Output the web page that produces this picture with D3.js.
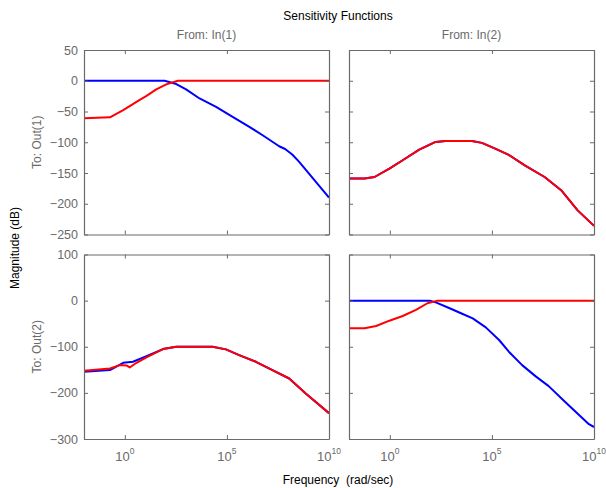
<!DOCTYPE html>
<html>
<head>
<meta charset="utf-8">
<script src="https://cdn.jsdelivr.net/npm/d3@7"></script>
<style>
  body { margin: 0; background: #fff; }
  text { font-family: "Liberation Sans", Arial, Helvetica, sans-serif; }
</style>
</head>
<body>
<script>
// frequencies are stored as log10 exponents, magnitudes in dB

// Out(1) <- In(1)
var s11BlueLog = [-2, 1.95, 2.52, 3.0, 3.66, 4.47, 5.28, 6.1, 6.75, 7.56, 7.85, 8.2, 8.54, 9.02, 9.5, 10];
var s11BlueDb  = [0, 0, -5.4, -14, -28.8, -42.4, -58.7, -75, -88.6, -106.5, -111, -120, -132, -151, -170, -190];
var s11RedLog  = [-2, -0.73, -0.08, 0.57, 1.06, 1.54, 2.03, 2.6, 10];
var s11RedDb   = [-61, -59.5, -47.8, -34.2, -24.5, -14, -5.9, 0, 0];

// Out(1) <- In(2)
var s12BlueLog = [-2, -1.24, -0.75, -0.02, 0.63, 1.44, 2.24, 2.73, 4.02, 4.51, 5.16, 5.8, 6.61, 7.58, 8.39, 9.2, 10];
var s12BlueDb  = [-159, -159, -156.5, -142.9, -129.3, -111.9, -99.4, -97.8, -97.8, -101, -110.3, -120, -137.5, -156.5, -178, -210.8, -236];
var s12RedLog  = s12BlueLog;
var s12RedDb   = s12BlueDb;

// Out(2) <- In(1)
var s21BlueLog = [-2, -0.73, -0.08, 0.4, 1.06, 1.87, 2.52, 4.3, 4.95, 5.6, 6.42, 7.23, 8.05, 8.86, 10];
var s21BlueDb  = [-154.3, -150.6, -134.8, -132.6, -120.2, -105, -100, -100, -105.7, -118, -132.6, -150.7, -168.8, -201.4, -244];
var s21RedLog  = [-2, -0.73, -0.24, 0.08, 0.24, 0.57, 1.06, 1.87, 2.52, 4.3, 4.95, 5.6, 6.42, 7.23, 8.05, 8.86, 10];
var s21RedDb   = [-152.2, -147, -139.8, -140.5, -144.9, -134.8, -123, -105, -100, -100, -105.7, -118, -132.6, -150.7, -168.8, -201.4, -244];

// Out(2) <- In(2)
var s22BlueLog = [-2, 1.96, 2.28, 2.93, 3.57, 4.06, 4.7, 5.35, 5.83, 6.48, 7.13, 7.78, 8.59, 9.23, 9.75, 10];
var s22BlueDb  = [0, 0, -4.3, -16.5, -29, -38.4, -58, -85.4, -110.8, -139.8, -163.7, -185.4, -219.6, -246.3, -268, -274];
var s22RedLog  = [-2, -1.24, -0.67, -0.02, 0.63, 1.28, 1.84, 2.33, 10];
var s22RedDb   = [-60, -60, -55, -43.5, -33.3, -20.2, -5.7, 0, 0];

var freqDomain = [1e-2, 1e10];
var freqTicks = [1, 1e5, 1e10];
var freqTickExp = ["0", "5", "10"];
var topYDomain = [-250, 50];
var topYTicks = [-250, -200, -150, -100, -50, 0, 50];
var botYDomain = [-300, 100];
var botYTicks = [-300, -200, -100, 0, 100];

var inputLabels = ["From: In(1)", "From: In(2)"];
var outputLabels = ["To: Out(1)", "To: Out(2)"];

var width = 606, height = 488;
var colX = [[84, 329], [349, 594]];
var rowY = [[50, 234.5], [254.5, 439]];
var grey = "#6a6a6a";

var svg = d3.select("body").append("svg")
    .attr("width", width)
    .attr("height", height);

var panels = [
  {row: 0, col: 0, yDomain: topYDomain, yTicks: topYTicks,
   blue: [s11BlueLog, s11BlueDb], red: [s11RedLog, s11RedDb]},
  {row: 0, col: 1, yDomain: topYDomain, yTicks: topYTicks,
   blue: [s12BlueLog, s12BlueDb], red: [s12RedLog, s12RedDb]},
  {row: 1, col: 0, yDomain: botYDomain, yTicks: botYTicks,
   blue: [s21BlueLog, s21BlueDb], red: [s21RedLog, s21RedDb]},
  {row: 1, col: 1, yDomain: botYDomain, yTicks: botYTicks,
   blue: [s22BlueLog, s22BlueDb], red: [s22RedLog, s22RedDb]}
];

panels.forEach(function(p, i) {
  var x = d3.scaleLog().domain(freqDomain).range(colX[p.col]);
  var y = d3.scaleLinear().domain(p.yDomain).range([rowY[p.row][1], rowY[p.row][0]]);

  var g = svg.append("g");

  svg.append("clipPath").attr("id", "clip" + i)
    .append("rect")
      .attr("x", colX[p.col][0]).attr("y", rowY[p.row][0])
      .attr("width", colX[p.col][1] - colX[p.col][0])
      .attr("height", rowY[p.row][1] - rowY[p.row][0]);

  var line = d3.line()
      .x(function(d) { return x(Math.pow(10, d[0])); })
      .y(function(d) { return y(d[1]); });

  [[p.blue, "#0000ff"], [p.red, "#ff0000"]].forEach(function(s) {
    var pts = s[0][0].map(function(v, k) { return [v, s[0][1][k]]; });
    g.append("path")
        .datum(pts)
        .attr("clip-path", "url(#clip" + i + ")")
        .attr("fill", "none")
        .attr("stroke", s[1])
        .attr("stroke-width", 2)
        .attr("stroke-linejoin", "round")
        .attr("d", line);
  });

  var axes = [
    {ax: d3.axisBottom(x).tickValues(freqTicks), t: "translate(0," + rowY[p.row][1] + ")"},
    {ax: d3.axisTop(x).tickValues(freqTicks), t: "translate(0," + rowY[p.row][0] + ")"},
    {ax: d3.axisLeft(y).tickValues(p.yTicks), t: "translate(" + colX[p.col][0] + ",0)", lab: p.col === 0},
    {ax: d3.axisRight(y).tickValues(p.yTicks), t: "translate(" + colX[p.col][1] + ",0)"}
  ];

  axes.forEach(function(a) {
    var ag = g.append("g")
        .attr("transform", a.t)
        .call(a.ax.tickSizeInner(-4).tickSizeOuter(0).tickPadding(6)
          .tickFormat(a.lab ? d3.format("d") : function() { return ""; }));
    ag.select(".domain").attr("stroke", grey).attr("stroke-width", 1.2);
    ag.selectAll(".tick line").attr("stroke", grey);
    ag.selectAll(".tick text")
        .attr("fill", grey)
        .style("font-size", "12.5px");
    ag.attr("font-family", null);
  });

  // x tick labels with superscripts on the bottom row
  if (p.row === 1) {
    var lab = g.append("g");
    freqTicks.forEach(function(f, k) {
      var t = lab.append("text")
          .attr("x", x(f))
          .attr("y", rowY[1][1] + 22)
          .attr("text-anchor", "middle")
          .attr("fill", grey)
          .style("font-size", "13px");
      t.append("tspan").text("10");
      t.append("tspan").attr("dy", -7).style("font-size", "8.5px").text(freqTickExp[k]);
    });
  }

  if (p.row === 0) {
    svg.append("text")
        .attr("x", (colX[p.col][0] + colX[p.col][1]) / 2)
        .attr("y", 39)
        .attr("text-anchor", "middle")
        .attr("fill", grey)
        .style("font-size", "12px")
        .text(inputLabels[p.col]);
  }
  if (p.col === 0) {
    var cy = (rowY[p.row][0] + rowY[p.row][1]) / 2;
    svg.append("text")
        .attr("transform", "translate(41," + cy + ") rotate(-90)")
        .attr("text-anchor", "middle")
        .attr("fill", grey)
        .style("font-size", "12px")
        .text(outputLabels[p.row]);
  }
});

svg.append("text")
    .attr("x", 338).attr("y", 20)
    .attr("text-anchor", "middle")
    .attr("fill", "#000")
    .style("font-size", "12px")
    .text("Sensitivity Functions");

svg.append("text")
    .attr("transform", "translate(19,248) rotate(-90)")
    .attr("text-anchor", "middle")
    .attr("fill", "#000")
    .style("font-size", "12px")
    .text("Magnitude (dB)");

svg.append("text")
    .attr("x", 338).attr("y", 484)
    .attr("text-anchor", "middle")
    .attr("fill", "#000")
    .style("font-size", "12px")
    .style("white-space", "pre")
    .text("Frequency  (rad/sec)");
</script>
</body>
</html>
